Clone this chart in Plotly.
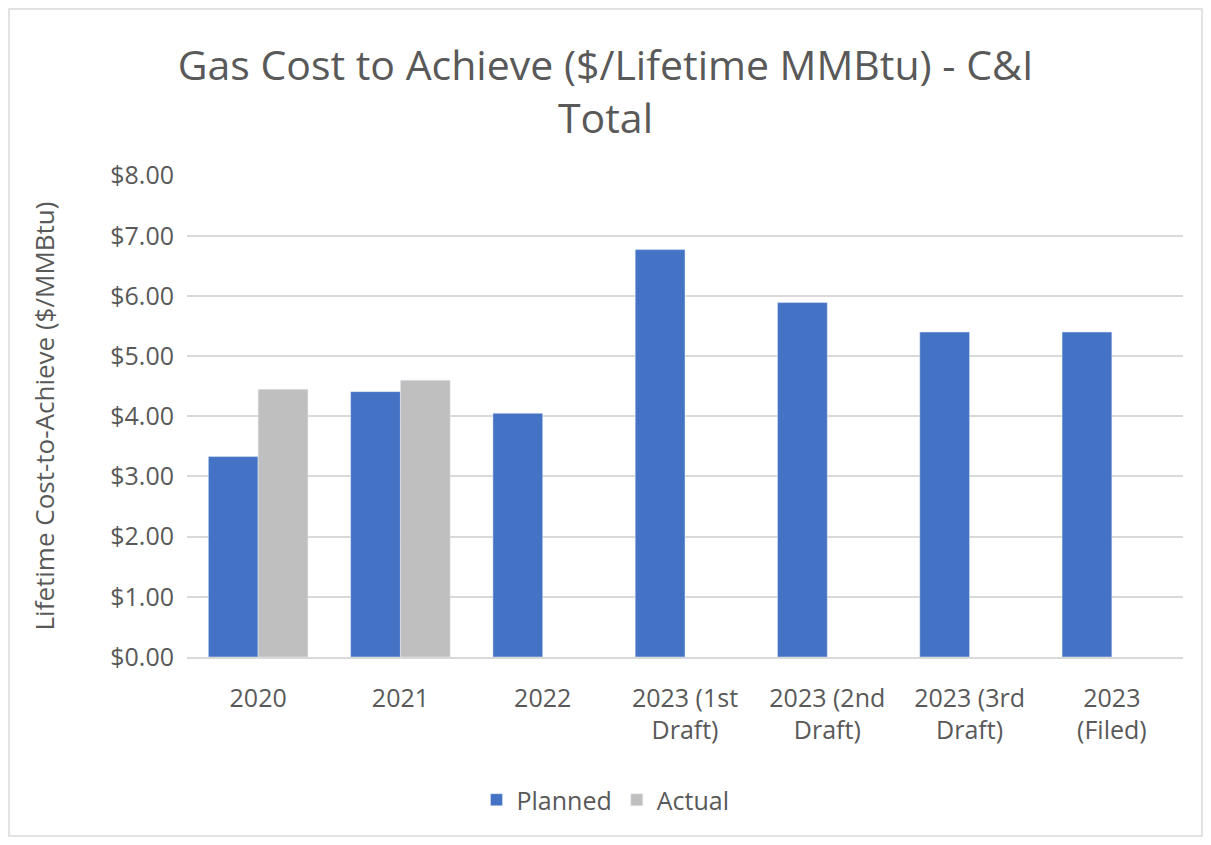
import plotly.graph_objects as go

categories = ["2020", "2021", "2022", "2023 (1st<br>Draft)", "2023 (2nd<br>Draft)",
              "2023 (3rd<br>Draft)", "2023<br>(Filed)"]
planned = [3.33, 4.41, 4.05, 6.77, 5.89, 5.40, 5.40]
actual = [4.45, 4.60, None, None, None, None, None]

# page body has an 8px margin, so size the figure to fit inside the window
W, H = 1195, 829
ml, mr, mt, mb = 179, 20, 167, 180
pw, ph = W - ml - mr, H - mt - mb

font = "Open Sans"
grey_text = "#595959"

fig = go.Figure()
fig.add_trace(go.Bar(x=categories, y=planned, name="Planned", marker_color="#4472C4"))
fig.add_trace(go.Bar(x=categories, y=actual, name="Actual", marker_color="#BFBFBF"))

fig.update_layout(
    width=W, height=H,
    margin=dict(l=ml, r=mr, t=mt, b=mb, autoexpand=False),
    paper_bgcolor="white", plot_bgcolor="white",
    barmode="group", bargap=0.3, bargroupgap=0,
    title=dict(text="Gas Cost to Achieve ($/Lifetime MMBtu) - C&I<br>Total",
               x=0.5, xanchor="center", y=1 - 72 / H, yanchor="middle",
               font=dict(family=font, size=41, color=grey_text)),
    font=dict(family=font, size=24, color=grey_text),
    legend=dict(orientation="h", xref="container", x=0.5, xanchor="center",
                y=(H - mb - 792) / ph, yanchor="middle",
                font=dict(size=25, color=grey_text)),
    showlegend=True,
)
fig.update_yaxes(range=[0, 8.01], tickvals=[0, 1, 2, 3, 4, 5, 6, 7, 8],
                 tickformat="$.2f",
                 gridcolor="#D9D9D9", gridwidth=1.5, zeroline=False,
                 showline=False, ticks="", ticklabelstandoff=12,
                 tickfont=dict(size=25, color=grey_text),
                 title=dict(text="Lifetime Cost-to-Achieve ($/MMBtu)", standoff=48,
                            font=dict(size=26, color=grey_text)))
fig.update_xaxes(showline=True, linecolor="#D9D9D9", linewidth=1.5,
                 tickfont=dict(size=25, color=grey_text),
                 ticks="outside", ticklen=18, tickcolor="rgba(0,0,0,0)")

fig.add_shape(type="rect", xref="paper", yref="paper",
              x0=(-ml + 1) / pw, x1=(W - ml - 1) / pw,
              y0=(-mb + 1) / ph, y1=(H - mb - 1) / ph,
              line=dict(color="#D9D9D9", width=1.5), fillcolor="rgba(0,0,0,0)", layer="below")

fig.write_html("out.html")
